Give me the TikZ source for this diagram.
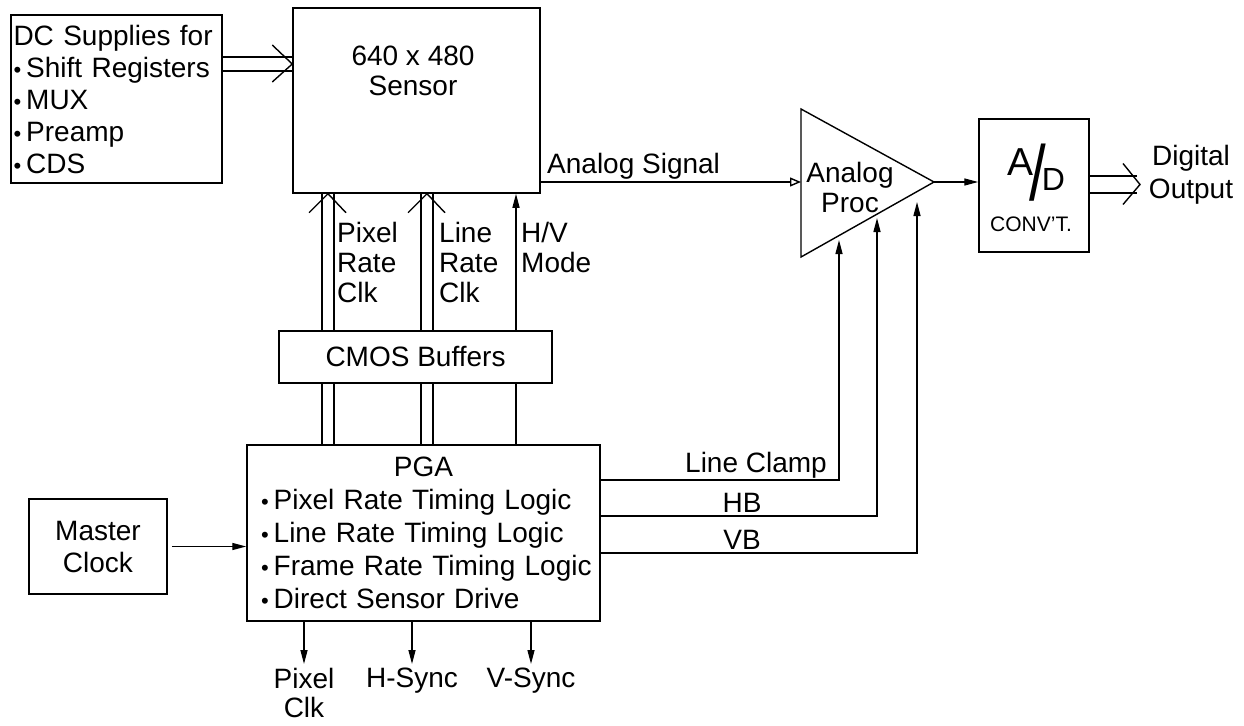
\documentclass[tikz,border=0pt]{standalone}
\usepackage{fontspec}
\setmainfont{Liberation Sans}
\usepackage{graphicx}
\usetikzlibrary{arrows.meta,calc}
\newcommand{\mybul}{{\fontsize{22}{22}\selectfont\textbullet}\hspace{5pt}}
\begin{document}
\begin{tikzpicture}[x=1pt,y=-1pt,
  font=\fontsize{28}{32}\selectfont,
  box/.style={draw, line width=1.5pt, inner sep=0pt},
  ln/.style={line width=1.4pt},
  arr/.style={line width=1.4pt, -{Triangle[length=14pt,width=7pt]}},
  openarr/.style={line width=1.4pt, -{Triangle[open,length=11pt,width=9pt]}},
  txt/.style={inner sep=0pt}]
\useasboundingbox (0,0) rectangle (1244,725);

% boxes
\node[box, minimum width=211pt, minimum height=168pt, text width=206pt, align=left] (dc) at (116.5,99)
  {DC Supplies for\\\mybul Shift Registers\\\mybul MUX\\\mybul Preamp\\\mybul CDS};
\node[box, minimum width=247pt, minimum height=185pt] (sensor) at (416.5,100.5) {};
\node[txt, anchor=north, align=center, font=\fontsize{28}{30}\selectfont] (sensortxt) at (413,46) {640 x 480\\Sensor};
\node[box, minimum width=273pt, minimum height=52pt] (cmos) at (415.5,357) {CMOS Buffers};
\node[box, minimum width=353pt, minimum height=176pt, text width=325pt, align=left,
  font=\fontsize{28}{33}\selectfont] (pga) at (423.5,533)
  {\makebox[325pt]{PGA}\\\mbox{\mybul Pixel Rate Timing Logic}\\\mbox{\mybul Line Rate Timing Logic}\\\mbox{\mybul Frame Rate Timing Logic}\\\mbox{\mybul Direct Sensor Drive}};
\node[box, minimum width=138pt, minimum height=95pt, align=center] (mc) at (98,546.5) {Master\\Clock};
\node[box, minimum width=110pt, minimum height=133pt] (ad) at (1034,185.5) {};
\node[txt, anchor=base] (adtxt) at (1036,200)
  {\raisebox{25pt}{\fontsize{39}{39}\selectfont A}\kern-4pt\scalebox{1}[1.3]{\fontsize{60}{60}\selectfont /}\kern-4pt\raisebox{10pt}{\fontsize{32}{32}\selectfont D}};
\node[txt, font=\fontsize{21}{21}\selectfont] (conv) at (1031,224) {CONV'T.};

% analog processor triangle
\coordinate (t1) at (801,109);
\coordinate (t2) at (801,257);
\coordinate (procout) at (934,182);
\coordinate (procin) at (801,182);
\draw[ln, line join=miter] (t1) -- (t2) -- (procout) -- cycle;
\node[txt, align=center, font=\fontsize{28}{30}\selectfont] (proc) at (850,187) {Analog\\Proc};

% labels
\node[txt, align=center, font=\fontsize{28}{33}\selectfont] (dout) at (1191,175) {Digital\\Output};
\node[txt, anchor=base west] (aslbl) at (547,173) {Analog Signal};
\node[txt, anchor=base east] (lclbl) at (827,472) {Line Clamp};
\node[txt, anchor=base] (hblbl) at (742,512) {HB};
\node[txt, anchor=base] (vblbl) at (742,549) {VB};
\node[txt, anchor=north west, align=left, font=\fontsize{28}{30}\selectfont] (prc) at (337,222) {Pixel\\Rate\\Clk};
\node[txt, anchor=north west, align=left, font=\fontsize{28}{30}\selectfont] (lrc) at (439,222) {Line\\Rate\\Clk};
\node[txt, anchor=north west, align=left, font=\fontsize{28}{30}\selectfont] (hvm) at (521,222) {H/V\\Mode};
\node[txt, anchor=north, align=center, font=\fontsize{28}{29}\selectfont] (pclk) at (304,668) {Pixel\\Clk};
\node[txt, anchor=north] (hs) at (412,668) {H-Sync};
\node[txt, anchor=north] (vs) at (531,668) {V-Sync};

% DC supplies -> sensor (double arrow)
\coordinate (d1) at (0,57);
\coordinate (d2) at (0,71);
\coordinate (dm) at (0,64);
\draw[ln] (dc.east |- d1) -- (sensor.west |- d1);
\draw[ln] (dc.east |- d2) -- (sensor.west |- d2);
\draw[ln] ($(sensor.west |- dm)+(-20,-19)$) -- (sensor.west |- dm) -- ++(-20,18);

% clock lines between PGA, CMOS buffers and sensor
\coordinate (p1) at (322,0);
\coordinate (p2) at (334,0);
\coordinate (pc) at (328,0);
\coordinate (l1) at (421,0);
\coordinate (l2) at (433,0);
\coordinate (lcc) at (427,0);
\coordinate (hv) at (516,0);
\foreach \c in {p1,p2,l1,l2} {
  \draw[ln] (\c |- pga.north) -- (\c |- cmos.south);
  \draw[ln] (\c |- cmos.north) -- (\c |- sensor.south);
}
\draw[ln] ($(pc |- sensor.south)+(-19,19)$) -- (pc |- sensor.south) -- ++(18,19);
\draw[ln] ($(lcc |- sensor.south)+(-19,19)$) -- (lcc |- sensor.south) -- ++(18,19);
\draw[ln] (hv |- pga.north) -- (hv |- cmos.south);
\draw[arr] (hv |- cmos.north) -- (hv |- sensor.south);

% analog signal
\draw[openarr] (sensor.east |- procin) -- (procin);
% processor -> A/D
\draw[arr] (procout) -- (ad.west |- procout);

% digital output (double arrow)
\coordinate (o1) at (1137,176);
\coordinate (o2) at (1137,193);
\coordinate (oa) at (1140,184.5);
\draw[ln] (ad.east |- o1) -- (o1);
\draw[ln] (ad.east |- o2) -- (o2);
\draw[ln] ($(oa)+(-17,-21)$) -- (oa) -- ++(-17,20);

% master clock -> PGA
\draw[arr] ([xshift=4pt]mc.east) -- (mc.east -| pga.west);

% PGA -> analog processor
\coordinate (lc) at (839,480);
\coordinate (lcin) at (839,240);
\coordinate (hb) at (877,516);
\coordinate (hbin) at (877,218);
\coordinate (vb) at (917,553);
\coordinate (vbin) at (917,202);
\draw[arr] (pga.east |- lc) -- (lc) -- (lcin);
\draw[arr] (pga.east |- hb) -- (hb) -- (hbin);
\draw[arr] (pga.east |- vb) -- (vb) -- (vbin);

% PGA outputs
\draw[arr] (pclk.north |- pga.south) -- ([yshift=4pt]pclk.north);
\draw[arr] (hs.north |- pga.south) -- ([yshift=4pt]hs.north);
\draw[arr] (vs.north |- pga.south) -- ([yshift=4pt]vs.north);
\end{tikzpicture}
\end{document}
